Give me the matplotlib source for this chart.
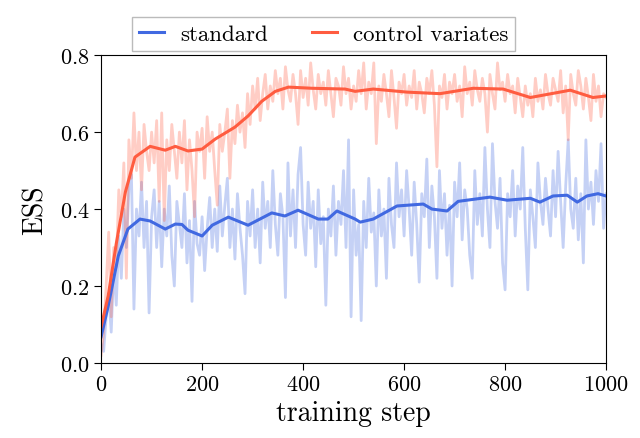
import numpy as np
import matplotlib
matplotlib.use("Agg")
import matplotlib.pyplot as plt

plt.rcParams['font.family'] = 'cmr10'
plt.rcParams['mathtext.fontset'] = 'cm'
plt.rcParams['axes.formatter.use_mathtext'] = True

# raw ESS per training step (read every 5 steps)
raw_steps = np.arange(0, 1001, 5)
std_raw = [
    0.05, 0.03, 0.12, 0.18, 0.08, 0.25, 0.15, 0.33, 0.22, 0.40,
    0.30, 0.45, 0.49, 0.14, 0.40, 0.33, 0.47, 0.30, 0.42, 0.13,
    0.38, 0.45, 0.30, 0.42, 0.25, 0.40, 0.33, 0.46, 0.28, 0.20,
    0.42, 0.36, 0.30, 0.44, 0.26, 0.37, 0.16, 0.42, 0.31, 0.28,
    0.38, 0.24, 0.35, 0.43, 0.30, 0.40, 0.29, 0.46, 0.33, 0.41,
    0.48, 0.30, 0.40, 0.27, 0.44, 0.35, 0.28, 0.18, 0.42, 0.33,
    0.45, 0.30, 0.40, 0.26, 0.47, 0.35, 0.42, 0.30, 0.50, 0.36,
    0.28, 0.44, 0.38, 0.17, 0.52, 0.33, 0.45, 0.30, 0.49, 0.56,
    0.36, 0.28, 0.47, 0.35, 0.42, 0.25, 0.45, 0.31, 0.38, 0.15,
    0.40, 0.33, 0.46, 0.28, 0.42, 0.36, 0.50, 0.30, 0.58, 0.12,
    0.45, 0.28, 0.36, 0.11, 0.42, 0.30, 0.48, 0.34, 0.39, 0.20,
    0.45, 0.33, 0.40, 0.22, 0.48, 0.36, 0.30, 0.52, 0.38, 0.45,
    0.33, 0.50, 0.40, 0.28, 0.47, 0.36, 0.21, 0.44, 0.38, 0.53,
    0.30, 0.46, 0.38, 0.22, 0.50, 0.35, 0.44, 0.28, 0.41, 0.20,
    0.47, 0.38, 0.52, 0.32, 0.45, 0.40, 0.28, 0.22, 0.50, 0.36,
    0.44, 0.33, 0.56, 0.40, 0.30, 0.57, 0.42, 0.35, 0.48, 0.26,
    0.19, 0.44, 0.38, 0.50, 0.33, 0.46, 0.40, 0.56, 0.35, 0.19,
    0.45, 0.38, 0.30, 0.52, 0.42, 0.36, 0.48, 0.40, 0.33, 0.50,
    0.38, 0.55, 0.42, 0.30, 0.46, 0.58, 0.40, 0.35, 0.48, 0.32,
    0.44, 0.26, 0.58, 0.40, 0.47, 0.36, 0.50, 0.42, 0.57, 0.35,
    0.44]
cv_raw = [
    0.02, 0.08, 0.20, 0.34, 0.12, 0.30, 0.25, 0.45, 0.38, 0.52,
    0.22, 0.58, 0.48, 0.65, 0.50, 0.60, 0.45, 0.62, 0.55, 0.50,
    0.60, 0.52, 0.63, 0.42, 0.65, 0.37, 0.58, 0.50, 0.62, 0.55,
    0.48, 0.60, 0.52, 0.63, 0.45, 0.58, 0.50, 0.38, 0.60, 0.55,
    0.61, 0.48, 0.64, 0.55, 0.60, 0.50, 0.41, 0.62, 0.55, 0.60,
    0.66, 0.48, 0.63, 0.57, 0.67, 0.60, 0.65, 0.56, 0.70, 0.62,
    0.72, 0.66, 0.74, 0.63, 0.70, 0.75, 0.66, 0.72, 0.68, 0.76,
    0.70, 0.74, 0.66, 0.77, 0.71, 0.68, 0.75, 0.70, 0.62, 0.76,
    0.69, 0.74, 0.67, 0.78, 0.71, 0.66, 0.75, 0.70, 0.73, 0.67,
    0.76, 0.70, 0.64, 0.74, 0.72, 0.67, 0.77, 0.70, 0.74, 0.66,
    0.72, 0.68, 0.76, 0.70, 0.78, 0.66, 0.73, 0.70, 0.78, 0.57,
    0.72, 0.68, 0.75, 0.70, 0.64, 0.76, 0.69, 0.61, 0.73, 0.70,
    0.75, 0.67, 0.72, 0.69, 0.76, 0.66, 0.73, 0.70, 0.65, 0.74,
    0.70, 0.76, 0.67, 0.51, 0.72, 0.69, 0.75, 0.66, 0.73, 0.70,
    0.75, 0.68, 0.72, 0.64, 0.77, 0.70, 0.73, 0.67, 0.76, 0.71,
    0.68, 0.74, 0.70, 0.60, 0.75, 0.70, 0.66, 0.78, 0.71, 0.73,
    0.68, 0.75, 0.70, 0.72, 0.65, 0.74, 0.69, 0.64, 0.72, 0.67,
    0.70, 0.64, 0.74, 0.68, 0.71, 0.66, 0.75, 0.70, 0.67, 0.74,
    0.71, 0.68, 0.76, 0.65, 0.72, 0.58, 0.75, 0.70, 0.67, 0.76,
    0.72, 0.66, 0.74, 0.69, 0.63, 0.75, 0.68, 0.72, 0.64, 0.70,
    0.69]

# smoothed curves
std_steps = [0, 14, 34, 53, 77, 97, 127, 147, 160, 172, 200, 220, 252, 291, 338,
             364, 390, 430, 449, 467, 503, 513, 539, 586, 638, 655, 685, 707,
             770, 804, 850, 869, 895, 923, 943, 962, 984, 1000]
std_smooth = [0.068, 0.148, 0.278, 0.348, 0.374, 0.369, 0.348, 0.361, 0.36,
              0.345, 0.33, 0.358, 0.379, 0.358, 0.39, 0.382, 0.397, 0.374,
              0.374, 0.395, 0.374, 0.366, 0.374, 0.408, 0.413, 0.40, 0.395,
              0.42, 0.431, 0.423, 0.428, 0.418, 0.434, 0.436, 0.418, 0.434,
              0.44, 0.434]
cv_steps = [0, 14, 30, 48, 67, 97, 127, 147, 172, 200, 226, 265, 291, 318, 345,
            371, 418, 483, 503, 539, 606, 671, 737, 796, 850, 929, 974, 1000]
cv_smooth = [0.094, 0.174, 0.31, 0.444, 0.535, 0.563, 0.553, 0.563, 0.551,
             0.556, 0.582, 0.613, 0.642, 0.68, 0.706, 0.717, 0.714, 0.712,
             0.706, 0.712, 0.704, 0.70, 0.714, 0.712, 0.69, 0.709, 0.69, 0.694]

c_std = '#4169e1'
c_cv = '#ff5c40'

fig = plt.figure(figsize=(6.4, 4.39), dpi=100)
ax = fig.add_axes([0.158, 0.171, 0.789, 0.701])

ax.plot(raw_steps, std_raw, color=c_std, alpha=0.3, lw=2)
ax.plot(raw_steps, cv_raw, color=c_cv, alpha=0.3, lw=2)
ax.plot(std_steps, std_smooth, color=c_std, lw=2.2, label='standard')
ax.plot(cv_steps, cv_smooth, color=c_cv, lw=2.2, label='control variates')

ax.set_xlim(0, 1000)
ax.set_ylim(0, 0.8)
ax.set_xticks([0, 200, 400, 600, 800, 1000])
ax.set_yticks([0.0, 0.2, 0.4, 0.6, 0.8])
ax.set_xlabel('training step', fontsize=20, labelpad=4)
ax.set_ylabel('ESS', fontsize=20, labelpad=8)
ax.tick_params(labelsize=16, length=5, direction='out')

fig.legend(loc='upper center', bbox_to_anchor=(0.506, 0.985), ncol=2,
           fontsize=16.5, fancybox=False, edgecolor='#bbbbbb', framealpha=1,
           handlelength=1.1, handletextpad=0.7, columnspacing=1.9,
           borderpad=0.3)

plt.savefig('out.png', dpi=100)
plt.close()
